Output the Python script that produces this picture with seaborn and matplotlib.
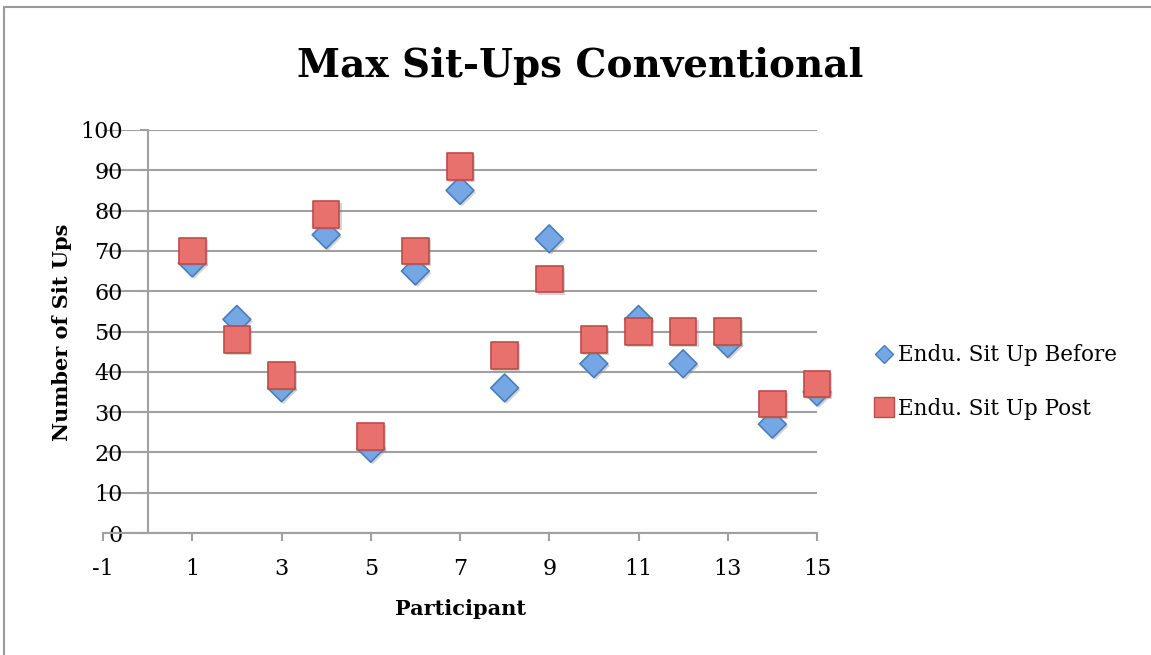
import matplotlib
matplotlib.use("Agg")
import matplotlib.pyplot as plt
import matplotlib.patheffects as pe
from matplotlib.lines import Line2D
from matplotlib.patches import Rectangle
import seaborn as sns
import pandas as pd

participants = list(range(1, 16))
before = [67, 53, 36, 74, 21, 65, 85, 36, 73, 42, 53, 42, 47, 27, 35]
post = [70, 48, 39, 79, 24, 70, 91, 44, 63, 48, 50, 50, 50, 32, 37]
series_names = ["Endu. Sit Up Before", "Endu. Sit Up Post"]
x_ticks = [-1, 1, 3, 5, 7, 9, 11, 13, 15]
y_ticks = list(range(0, 101, 10))

df = pd.DataFrame({
    "Participant": participants * 2,
    "Value": before + post,
    "Series": [series_names[0]] * 15 + [series_names[1]] * 15,
})

sns.set_theme(style="white")
plt.rcParams['font.family'] = ['DejaVu Serif']
plt.rcParams['axes.unicode_minus'] = False
plt.rcParams['text.color'] = 'black'
plt.rcParams['axes.labelcolor'] = 'black'
plt.rcParams['xtick.color'] = 'black'
plt.rcParams['ytick.color'] = 'black'

fig = plt.figure(figsize=(11.51, 6.55), dpi=100)
ax = fig.add_axes([103/1151, 1 - 533/655, 714/1151, 403/655])

blue_face, blue_edge = "#74a7e3", "#4a7ebb"
red_face, red_edge = "#e8716d", "#be4b48"
shadow = [pe.SimplePatchShadow(offset=(1.5, -1.5), shadow_rgbFace="#888888", alpha=0.35), pe.Normal()]

b = df[df.Series == series_names[0]]
p = df[df.Series == series_names[1]]
sns.scatterplot(data=b, x="Participant", y="Value", marker="D", s=200,
                color=blue_face, edgecolor=blue_edge, linewidth=1.2, ax=ax,
                zorder=3, legend=False, clip_on=False)
sns.scatterplot(data=p, x="Participant", y="Value", marker="s", s=370,
                color=red_face, edgecolor=red_edge, linewidth=1.2, ax=ax,
                zorder=4, legend=False, clip_on=False)
for coll in ax.collections:
    coll.set_path_effects(shadow)
    coll.set_clip_on(False)

ax.set_xlim(-1, 15)
ax.set_ylim(0, 100)
ax.set_xticks(x_ticks)
ax.set_yticks(y_ticks)
ax.grid(axis="y", color="#a0a0a0", linewidth=1.5)
ax.grid(axis="x", visible=False)
ax.set_axisbelow(True)

for s in ["top", "right"]:
    ax.spines[s].set_visible(False)
ax.spines["left"].set_position(("data", 0))
ax.spines["left"].set_color("#a0a0a0")
ax.spines["left"].set_linewidth(1.5)
ax.spines["bottom"].set_color("#a0a0a0")
ax.spines["bottom"].set_linewidth(1.5)
ax.spines["left"].set_zorder(1)

ax.tick_params(axis="y", direction="out", length=6, width=1.5, color="#a0a0a0",
               labelsize=16, labelcolor="black", pad=12, left=True)
ax.tick_params(axis="x", direction="out", length=6, width=1.5, color="#a0a0a0",
               labelsize=16, labelcolor="black", pad=12, bottom=True)

ax.set_xlabel("Participant", fontsize=15, fontweight="bold", labelpad=14, color="black")
ax.set_ylabel("")
fig.text(62/1151, 1 - 332/655, "Number of Sit Ups", rotation=90, fontsize=15,
         fontweight="bold", ha="center", va="center", color="black")
fig.text(580/1151, 1 - 66/655, "Max Sit-Ups Conventional", fontsize=28,
         fontweight="bold", ha="center", va="center", color="black")

handles = [
    Line2D([], [], marker="D", linestyle="none", markersize=9.5,
           markerfacecolor=blue_face, markeredgecolor=blue_edge, markeredgewidth=1),
    Line2D([], [], marker="s", linestyle="none", markersize=14,
           markerfacecolor=red_face, markeredgecolor=red_edge, markeredgewidth=1),
]
leg = fig.legend(handles, series_names, loc="center left",
                 bbox_to_anchor=(866/1151, 1 - 382/655), frameon=False, fontsize=15.5,
                 handlelength=0.7, handletextpad=0.3, labelspacing=1.45, borderpad=0)
for t in leg.get_texts():
    t.set_color("black")

fig.add_artist(Rectangle((4/1151, -0.1), 1.2, 1 - 7/655 + 0.1,
                         transform=fig.transFigure, fill=False,
                         edgecolor="#9a9a9a", linewidth=1.5))

fig.savefig("out.png", dpi=100)
